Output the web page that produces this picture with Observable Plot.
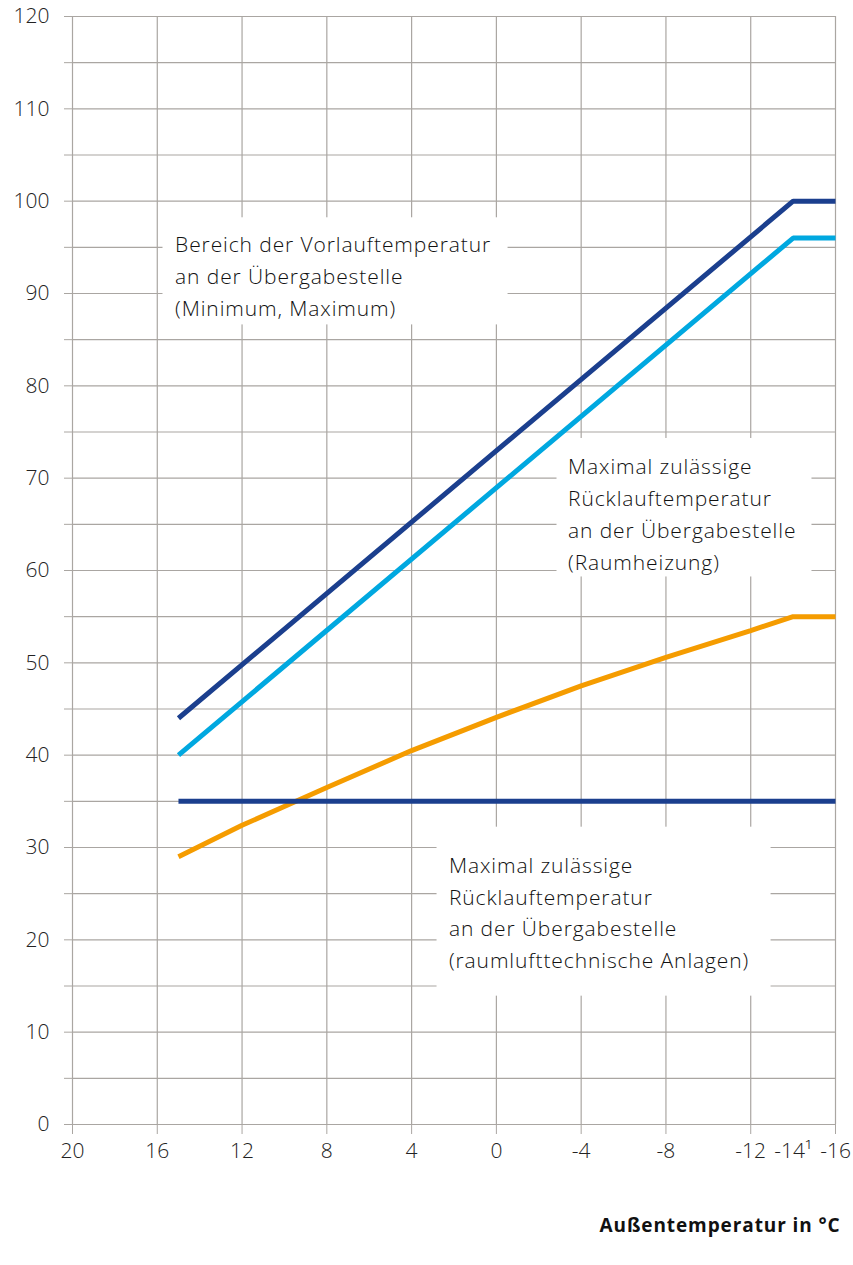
<!DOCTYPE html>
<html>
<head>
<meta charset="utf-8">
<script src="https://cdn.jsdelivr.net/npm/d3@7"></script>
<script src="https://cdn.jsdelivr.net/npm/@observablehq/plot@0.6"></script>
<style>
  html, body { margin: 0; padding: 0; background: #fff; }
  #chart svg { display: block; overflow: visible; }
  #chart svg g[aria-label="text"] text { letter-spacing: 0.9px; }
</style>
</head>
<body>
<div id="chart"></div>
<script>
// ---- data ----
const xTicks = [20, 16, 12, 8, 4, 0, -4, -8, -12, -16];
const xExtraTick = [-14];
const yTicks = [0, 5, 10, 15, 20, 25, 30, 35, 40, 45, 50, 55, 60, 65, 70, 75, 80, 85, 90, 95, 100, 105, 110, 115, 120];

const vorlaufMaxX = [15, -14, -16];
const vorlaufMaxY = [44, 100, 100];
const vorlaufMinX = [15, -14, -16];
const vorlaufMinY = [40, 96, 96];
const ruecklaufRaumX = [15, 12, 8, 4, 0, -4, -8, -12, -14, -16];
const ruecklaufRaumY = [29, 32.4, 36.5, 40.5, 44.1, 47.5, 50.6, 53.5, 55, 55];
const ruecklaufRltX = [15, -16];
const ruecklaufRltY = [35, 35];

const seriesNames = ["Vorlauf Maximum", "Vorlauf Minimum", "Rücklauf Raumheizung", "Rücklauf RLT"];
const seriesColors = ["#1b3f8e", "#00a8e0", "#f59c00", "#1b3f8e"];

const noteTexts = [
  "Bereich der Vorlauftemperatur\nan der Übergabestelle\n(Minimum, Maximum)",
  "Maximal zulässige\nRücklauftemperatur\nan der Übergabestelle\n(Raumheizung)",
  "Maximal zulässige\nRücklauftemperatur\nan der Übergabestelle\n(raumlufttechnische Anlagen)"
];
const noteX = [15.16, -3.38, 2.24];
const noteY = [92.1, 66.4, 23.2];
const boxX1 = [15.73, -2.86, 2.8];
const boxX2 = [-0.55, -14.89, -12.96];
const boxY1 = [86.6, 59.3, 13.9];
const boxY2 = [98.2, 74.3, 32.2];

const xAxisTitle = "Außentemperatur in °C";

// ---- build tables ----
const seriesXs = [vorlaufMaxX, vorlaufMinX, ruecklaufRaumX, ruecklaufRltX];
const seriesYs = [vorlaufMaxY, vorlaufMinY, ruecklaufRaumY, ruecklaufRltY];
const lineData = [];
seriesNames.forEach((name, i) => {
  seriesXs[i].forEach((x, j) => lineData.push({series: name, x, y: seriesYs[i][j]}));
});
const boxes = boxX1.map((_, i) => ({x1: boxX1[i], x2: boxX2[i], y1: boxY1[i], y2: boxY2[i]}));
const notes = noteTexts.map((t, i) => ({text: t, x: noteX[i], y: noteY[i]}));

const grid = "#aaa6a2";
const font = "'Open Sans'";

const chart = Plot.plot({
  width: 853,
  height: 1265,
  marginLeft: 72,
  marginRight: 18,
  marginTop: 16,
  marginBottom: 141,
  x: {domain: [20, -16]},
  y: {domain: [0, 120]},
  color: {domain: seriesNames, range: seriesColors},
  style: {fontFamily: font, background: "#fff", overflow: "visible"},
  marks: [
    Plot.gridX(xTicks, {stroke: grid, strokeOpacity: 1, strokeWidth: 1.2}),
    Plot.gridY(yTicks, {stroke: grid, strokeOpacity: 1, strokeWidth: 1.2}),
    Plot.axisY({
      ticks: yTicks, tickSize: 8, tickPadding: 15,
      tickFormat: d => (d % 10 === 0 ? String(d) : ""),
      stroke: grid, fill: "#222", fontSize: 21, fontWeight: 300, label: null
    }),
    Plot.axisX({
      ticks: xTicks, tickSize: 10, tickPadding: 9,
      tickFormat: d => String(d),
      stroke: grid, fill: "#222", fontSize: 21, fontWeight: 300, label: null
    }),
    Plot.axisX({
      ticks: xExtraTick, tickSize: 0, tickPadding: 19,
      tickFormat: d => String(d) + "¹",
      fill: "#222", fontSize: 21, fontWeight: 300, label: null
    }),
    Plot.rect(boxes, {x1: "x1", x2: "x2", y1: "y1", y2: "y2", fill: "white"}),
    Plot.line(lineData, {
      x: "x", y: "y", z: "series", stroke: "series",
      strokeWidth: 5, strokeLinecap: "butt", strokeLinejoin: "miter"
    }),
    Plot.text(notes, {
      x: "x", y: "y", text: "text", textAnchor: "start", lineAnchor: "middle",
      lineHeight: 1.52, fontSize: 21, fontWeight: 300, fill: "#111"
    }),
    Plot.text([xAxisTitle], {
      frameAnchor: "bottom-right", textAnchor: "end", lineAnchor: "middle",
      dx: 5, dy: 101, fontSize: 19, fontWeight: "bold", fill: "#111"
    })
  ]
});
document.getElementById("chart").appendChild(chart);
</script>
</body>
</html>
